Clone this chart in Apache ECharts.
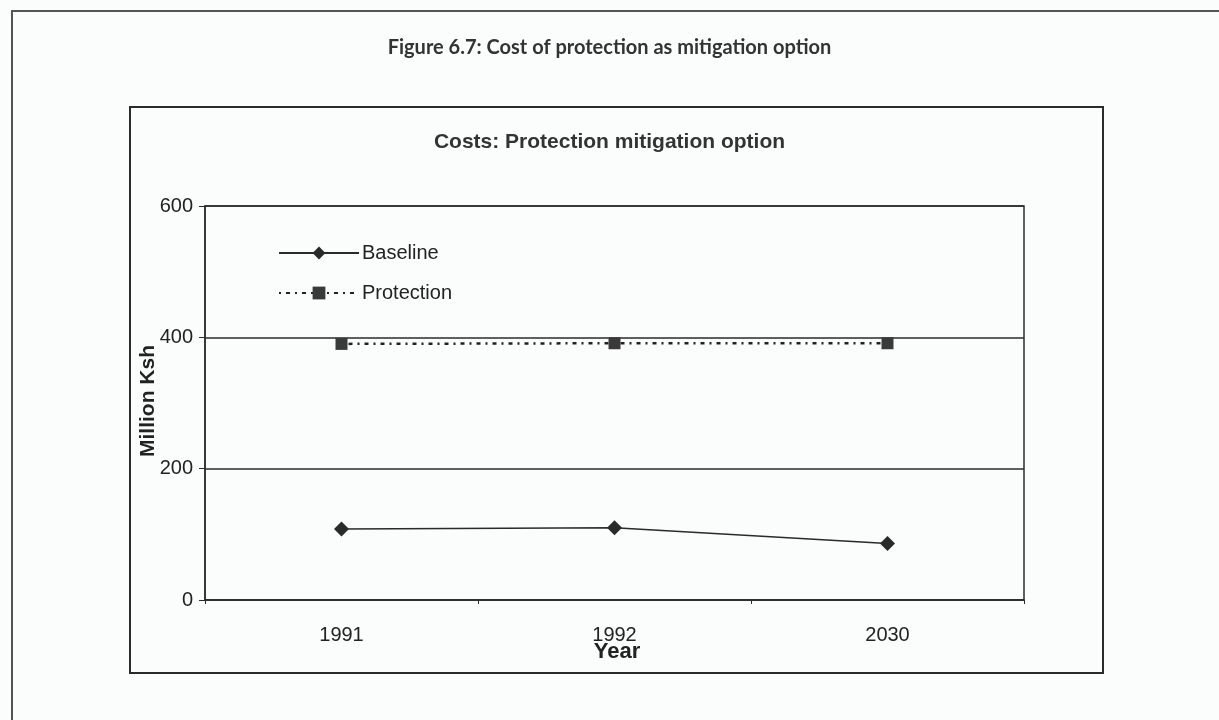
<!DOCTYPE html>
<html>
<head>
<meta charset="utf-8">
<script src="https://cdn.jsdelivr.net/npm/echarts@6/dist/echarts.min.js"></script>
<style>
  html, body { margin: 0; padding: 0; background: #fbfcfc; }
  #chart { width: 1219px; height: 720px; }
</style>
</head>
<body>
<div id="chart"></div>
<script>
// Cost of protection as a mitigation option (Million Ksh)
const years = ['1991', '1992', '2030'];
const baseline = [108, 110, 86];
const protection = [390, 391, 391];
const yTicks = [0, 200, 400, 600];
const xTitle = 'Year';
const yTitle = 'Million Ksh';

const ink = '#2b2b2b';
const chart = echarts.init(document.getElementById('chart'), null, { renderer: 'canvas' });

chart.setOption({
  backgroundColor: '#fbfcfc',
  animation: false,
  title: [
    {
      text: 'Figure 6.7: Cost of protection as mitigation option',
      left: 'center', top: 33,
      textStyle: { fontFamily: 'Lato', fontWeight: 'bold', fontSize: 20, color: '#333' }
    },
    {
      text: 'Costs: Protection mitigation option',
      left: 'center', top: 127,
      textStyle: { fontFamily: 'Liberation Sans', fontWeight: 'bold', fontSize: 21, color: '#333' }
    }
  ],
  graphic: [
    // outer page frame
    { type: 'rect', shape: { x: 12, y: 11, width: 1240, height: 740 },
      style: { fill: 'none', stroke: '#555', lineWidth: 2 }, z: -1 },
    // chart frame
    { type: 'rect', shape: { x: 130, y: 107, width: 973, height: 566 },
      style: { fill: 'none', stroke: ink, lineWidth: 2 }, z: -1 },
    // axis titles
    { type: 'text', x: 617, y: 652,
      style: { text: xTitle, font: 'bold 22px "Liberation Sans"', fill: '#222',
               textAlign: 'center', textVerticalAlign: 'middle' } },
    { type: 'text', x: 148, y: 401, rotation: Math.PI / 2,
      style: { text: yTitle, font: 'bold 21px "Liberation Sans"', fill: '#222',
               textAlign: 'center', textVerticalAlign: 'middle' } }
  ],
  legend: {
    orient: 'vertical',
    left: 273, top: 238,
    itemGap: 20,
    itemWidth: 80, itemHeight: 16,
    textStyle: { fontFamily: 'Liberation Sans', fontSize: 20, color: '#222', padding: [0, 0, 0, -2] },
    data: ['Baseline', 'Protection']
  },
  grid: {
    left: 205, right: 195, top: 206, bottom: 120,
    show: true, borderColor: ink, borderWidth: 1.5, backgroundColor: 'transparent'
  },
  xAxis: {
    type: 'category',
    data: years,
    boundaryGap: true,
    axisLine: { lineStyle: { color: ink, width: 1.5 } },
    axisTick: { show: true, length: 4, lineStyle: { color: ink } },
    axisLabel: { fontFamily: 'Liberation Sans', fontSize: 20, color: '#222', margin: 25 }
  },
  yAxis: {
    type: 'value',
    min: 0, max: 600, interval: 200,
    axisLine: { show: true, lineStyle: { color: ink, width: 1.5 } },
    axisTick: { show: true, length: 6, lineStyle: { color: ink } },
    axisLabel: {
      fontFamily: 'Liberation Sans', fontSize: 20, color: '#222', margin: 12,
      formatter: v => yTicks.includes(v) ? String(v) : ''
    },
    splitLine: { show: true, lineStyle: { color: ink, width: 1.5 } }
  },
  series: [
    {
      name: 'Baseline',
      type: 'line',
      data: baseline,
      symbol: 'diamond', symbolSize: 15,
      itemStyle: { color: '#2a2a2a' },
      lineStyle: { color: '#2a2a2a', width: 1.5 }
    },
    {
      name: 'Protection',
      type: 'line',
      data: protection,
      symbol: 'rect', symbolSize: 12,
      itemStyle: { color: '#3a3a3a' },
      lineStyle: { color: '#222', width: 2.5, type: [2, 5, 4, 5] }
    }
  ]
});
</script>
</body>
</html>
